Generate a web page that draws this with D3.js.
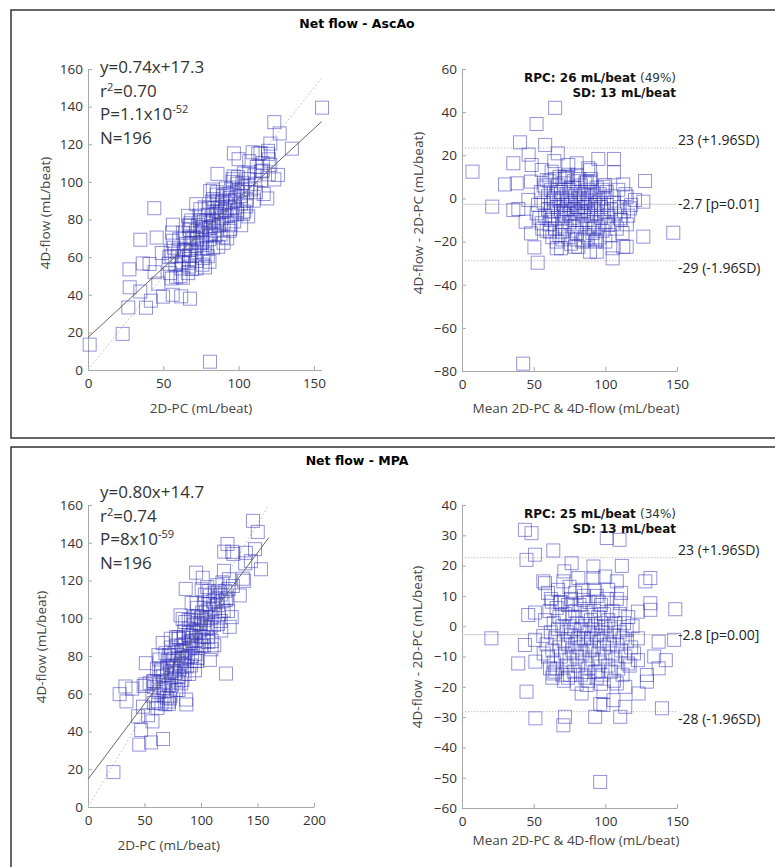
<!DOCTYPE html>
<html>
<head>
<meta charset="utf-8">
<script src="https://cdn.jsdelivr.net/npm/d3@7"></script>
<style>
  body { margin: 0; background: #fff; }
  text { font-family: "Open Sans", sans-serif; }
</style>
</head>
<body>
<svg id="chart" width="775" height="867"></svg>
<script>
// panel titles
let titles = ['Net flow - AscAo', 'Net flow - MPA']

// Bland-Altman readings, one pair per patient: [mean of 2D-PC & 4D-flow, 4D-flow - 2D-PC]
let ascAoBA = [
  [65,42],[52,34.5],[40.5,26],[58,24.8],[66.8,20.9],[7.3,12.4],[35.8,16.3],[46.5,20.3],[48.6,15.5],[55.6,13.2],
  [64.4,17.3],[30,6.5],[38.2,7],[48.1,7.8],[59.1,8.5],[74.2,15.5],[71.9,10.1],[95.1,18.3],[106,18.3],[106,12.1],
  [127.7,8.1],[112.5,6.5],[99.8,6.2],[80,16.3],[88.1,14],[80,10.9],[89.3,7.8],[21.1,-3.8],[35.8,-5.4],[39.3,-4.9],
  [44.4,-10.8],[48.1,-16.2],[50.5,-22.7],[52.8,-29.8],[66.1,-23.1],[69.1,-23.1],[61.4,-15.4],[69.6,-15.4],[78.8,-22.4],[46.3,-0.7],
  [52.1,-6.9],[55.6,-11.5],[126.5,-1.5],[147.4,-15.9],[126.5,-17.7],[114.9,-22.4],[112.5,-22.4],[105.1,-27.8],[105.1,-23.1],[94,-24.7],
  [89.3,-24.7],[81.2,-22.4],[114.9,0.8],[117.2,-4.6],[110.2,-9.2],[102.1,-12.3],[120.7,-0.7],[42.7,-76.6],[62.5,12.4],[73,10],
  [87,7.7],[98.7,5.4],[89.4,13.1],[84.7,-19.4],[94,-19.4],[100,-20],
  [55,3],[57,-2],[58,-8],[60,1],[60,-5],[61,-12],[62,4],[62,-3],[63,-8],[64,0],
  [64,-6],[65,-14],[66,2],[66,-4],[67,-9],[67,6],[68,-1],[68,-17],[69,3],[69,-6],
  [70,-11],[70,0],[71,-3],[71,7],[72,-8],[72,-14],[73,2],[73,-5],[74,-1],[74,-18],
  [75,4],[75,-7],[75,-11],[76,0],[76,-3],[77,-9],[77,5],[78,-5],[78,-13],[79,1],
  [79,-2],[80,-7],[80,-16],[81,3],[81,-4],[82,-10],[82,0],[83,-6],[83,6],[84,-2],
  [84,-12],[85,-8],[85,2],[86,-4],[86,-17],[87,-1],[87,-10],[88,4],[88,-6],[89,-13],
  [89,0],[90,-3],[90,-8],[91,-16],[91,3],[92,-5],[92,-11],[93,1],[93,-20],[94,-7],
  [95,-2],[95,-13],[96,2],[97,-9],[97,-4],[98,-15],[99,0],[99,-6],[100,-11],[101,3],
  [101,-3],[102,-8],[103,-17],[104,-5],[104,1],[105,-12],[106,-2],[107,-7],[108,-14],[109,4],
  [110,-4],[111,-10],[112,-16],[113,-6],[114,2],[115,-12],[116,-8],[118,-3],[58,5],[59,-15],
  [61,8],[63,-18],[65,9],[66,-20],[68,10],[70,-19],[72,9],[74,11],[76,-21],[78,8],
  [80,-19],[82,9],[84,-20],[86,7],[88,-18],[90,9],[92,-14],[94,5],[96,-18],[98,4],
  [53,-3],[54,-9],[56,-14],[57,6],[62,-10],[64,-1],[71,-7],[79,-10],[85,-1],[93,-3]
]

let mpaBA = [
  [43.9,31.8],[48.5,30.7],[101,29.1],[109.9,28.5],[63.7,25],[50.9,23.6],[45,21.9],[71.4,18.1],[76.5,20.8],[91.7,19.7],
  [111.5,19.9],[56.7,14.8],[57.9,14.2],[70.7,14.8],[81.2,15.9],[91.7,15.9],[99.9,16.4],[108,14.8],[127.9,14.8],[131.4,15.9],
  [46.2,3.7],[50.9,4.5],[62.7,8.1],[68.4,7.8],[76.5,7.4],[84.7,8.7],[95.2,8.1],[110.6,7.6],[122.7,4.8],[131.4,7.6],
  [131.4,5.4],[148.8,5.6],[20.5,-4],[43.9,-6.2],[50.9,-4.5],[56.7,-3.2],[39.2,-12.3],[51.2,-11.7],[61.4,-13.9],[63.7,-15.6],
  [45,-21.6],[51.2,-30.4],[70.7,-32.7],[71.9,-29.9],[92.9,-29.9],[110.4,-29.9],[96.4,-25.7],[98.7,-26],[113.9,-26.6],[139.5,-27.1],
  [83.5,-22.2],[98.7,-21.6],[108,-18.9],[113.9,-20],[123.2,-22.2],[129,-18.3],[137.2,-5.1],[148,-4.5],[134.1,-10],[142.2,-11.2],
  [137.2,-13.9],[129,-16.1],[95.2,-15],[75.4,-16.1],[96.4,-51.4],[122.7,-4],[114.9,-1.2],[122.7,-11.2],[115.8,-12.3],[87,-19.4],
  [105.7,-24.4],
  [58,2],[59,-6],[60,-10],[61,5],[62,-2],[63,-8],[64,1],[64,-12],[65,-4],[66,6],
  [66,-14],[67,-1],[68,-7],[68,3],[69,-10],[70,0],[70,-16],[71,-5],[72,4],[72,-9],
  [73,-2],[73,-13],[74,7],[74,-6],[75,0],[75,-11],[76,-3],[76,9],[77,-8],[77,3],
  [78,-15],[78,-1],[79,5],[79,-6],[80,-10],[80,1],[81,-4],[81,-13],[82,7],[82,-7],
  [83,-1],[83,-16],[84,3],[84,-9],[85,-4],[85,10],[86,-12],[86,0],[87,-6],[87,5],
  [88,-2],[88,-14],[89,8],[89,-8],[90,-4],[90,2],[91,-11],[91,-1],[92,5],[92,-7],
  [93,-15],[93,0],[94,-3],[94,10],[95,-9],[95,3],[96,-5],[96,-12],[97,1],[97,7],
  [98,-2],[98,-16],[99,-7],[99,4],[100,-10],[100,0],[101,-4],[101,9],[102,-13],[102,2],
  [103,-6],[104,-1],[104,-15],[105,5],[105,-9],[106,-3],[107,-11],[107,1],[108,-6],[108,9],
  [109,-14],[110,-2],[110,4],[111,-8],[112,-4],[112,-16],[113,1],[114,-10],[115,-5],[116,3],
  [117,-13],[118,-7],[119,0],[120,-9],[60,11],[63,-17],[67,12],[71,-18],[75,13],[80,-19],
  [84,12],[88,-18],[92,12],[97,-19],[102,12],[106,-18],[57,-9],[62,9],[65,-15],[69,8],
  [74,-17],[79,11],[86,-17],[94,-17],[111,11]
]

// regression as printed on the plots
let fitSlope = [0.74, 0.80]
let fitIntercept = [17.3, 14.7]
let fitLabels = [
  ['y=0.74x+17.3', '0.70', '1.1x10', '-52', '196'],
  ['y=0.80x+14.7', '0.74', '8x10', '-59', '196']
]

// bias and limits of agreement
let limitValues = [[23.4, -2.7, -28.9], [22.6, -2.8, -28.2]]
let limitLabels = [
  ['23 (+1.96SD)', '-2.7 [p=0.01]', '-29 (-1.96SD)'],
  ['23 (+1.96SD)', '-2.8 [p=0.00]', '-28 (-1.96SD)']
]
let rpcLabels = [
  ['RPC: 26 mL/beat', '(49%)', 'SD: 13 mL/beat'],
  ['RPC: 25 mL/beat', '(34%)', 'SD: 13 mL/beat']
]

// tick labels
let scatterXTicks = [[0, 50, 100, 150], [0, 50, 100, 150, 200]]
let scatterYTicks = [0, 20, 40, 60, 80, 100, 120, 140, 160]
let baXTicks = [0, 50, 100, 150]
let baYTicks = [[60, 40, 20, 0, -20, -40, -60, -80], [40, 30, 20, 10, 0, -10, -20, -30, -40, -50, -60]]

// layout per panel
let panels = [
  { top: 10, boxH: 428, titleY: 28,
    sx: [0, 155], sxR: [88, 321.5], sy: [0, 160], syR: [370, 69], lineEnd: 155,
    by: [-80, 60], byR: [371, 69], statY: 73, yLabX: 45, baYLabX: 418, midY: 213, xLabY: 413 },
  { top: 447, boxH: 440, titleY: 465,
    sx: [0, 200], sxR: [88, 314], sy: [0, 160], syR: [807, 505], lineEnd: 160,
    by: [-60, 40], byR: [808, 505], statY: 498, yLabX: 41, baYLabX: 417, midY: 647, xLabY: 850 }
]

let svg = d3.select('#chart')
let markColor = '#2a2ab8'
let sq = 13

function styleAxis(g) {
  g.select('.domain').attr('stroke', '#a8a8a8')
  g.selectAll('.tick line').attr('stroke', '#a8a8a8')
  g.selectAll('.tick text').attr('fill', '#333').style('font-size', '13.5px')
    .style('font-family', '"Open Sans", sans-serif')
}

function drawPanel(i) {
  let p = panels[i]
  let ba = i == 0 ? ascAoBA : mpaBA
  // the raw measurements behind each Bland-Altman pair
  let pts = ba.map(d => ({ pc: d[0] - d[1] / 2, flow: d[0] + d[1] / 2, mean: d[0], diff: d[1] }))

  svg.append('rect')
    .attr('x', 11).attr('y', p.top).attr('width', 780).attr('height', p.boxH)
    .attr('fill', 'none').attr('stroke', '#333').attr('stroke-width', 1.5)

  svg.append('text').text(titles[i])
    .attr('x', 357).attr('y', p.titleY).attr('text-anchor', 'middle')
    .style('font-family', '"DejaVu Sans", sans-serif').style('font-weight', 'bold').style('font-size', '12.5px')

  // ---- scatter: 2D-PC vs 4D-flow
  let x = d3.scaleLinear().domain(p.sx).range(p.sxR)
  let y = d3.scaleLinear().domain(p.sy).range(p.syR)

  svg.append('g').attr('transform', 'translate(0,' + p.syR[0] + ')')
    .call(d3.axisBottom(x).tickValues(scatterXTicks[i]).tickSizeInner(-4).tickSizeOuter(0).tickPadding(8))
    .call(styleAxis)
  svg.append('g').attr('transform', 'translate(' + p.sxR[0] + ',0)')
    .call(d3.axisLeft(y).tickValues(scatterYTicks).tickSizeInner(-4).tickSizeOuter(0).tickPadding(5))
    .call(styleAxis)

  // line of identity
  svg.append('line')
    .attr('x1', x(0)).attr('y1', y(0)).attr('x2', x(p.lineEnd)).attr('y2', y(p.lineEnd))
    .attr('stroke', '#c8c8c8').attr('stroke-dasharray', '2,2')

  svg.append('g').selectAll('rect')
    .data(pts).enter()
    .append('rect')
    .attr('x', d => x(d.pc) - sq / 2)
    .attr('y', d => y(d.flow) - sq / 2)
    .attr('width', sq).attr('height', sq)
    .attr('fill', 'none').attr('stroke', markColor).attr('stroke-opacity', 0.5)

  // regression line
  svg.append('line')
    .attr('x1', x(0)).attr('y1', y(fitIntercept[i]))
    .attr('x2', x(p.lineEnd)).attr('y2', y(fitSlope[i] * p.lineEnd + fitIntercept[i]))
    .attr('stroke', '#666').attr('stroke-width', 1)

  let stat = svg.append('g').attr('fill', '#333').style('font-size', '17px')
  let f = fitLabels[i]
  stat.append('text').attr('x', 100).attr('y', p.statY).text(f[0])
  let r2 = stat.append('text').attr('x', 100).attr('y', p.statY + 24)
  r2.append('tspan').text('r')
  r2.append('tspan').text('2').attr('dy', -6).style('font-size', '11px')
  r2.append('tspan').text('=' + f[1]).attr('dy', 6)
  let pv = stat.append('text').attr('x', 100).attr('y', p.statY + 47)
  pv.append('tspan').text('P=' + f[2])
  pv.append('tspan').text(f[3]).attr('dy', -7).style('font-size', '11px')
  stat.append('text').attr('x', 100).attr('y', p.statY + 71).text('N=' + f[4])

  svg.append('text').text('2D-PC (mL/beat)')
    .attr('x', (p.sxR[0] + x(150)) / 2 + (i == 0 ? 0 : -4)).attr('y', p.xLabY)
    .attr('text-anchor', 'middle').attr('fill', '#444').style('font-size', '13.5px')
  svg.append('text').text('4D-flow (mL/beat)')
    .attr('transform', 'translate(' + p.yLabX + ',' + p.midY + ') rotate(-90)')
    .attr('dy', '0.35em').attr('text-anchor', 'middle').attr('fill', '#444').style('font-size', '13.5px')

  // ---- Bland-Altman
  let bx = d3.scaleLinear().domain([0, 150]).range([462, 677])
  let by = d3.scaleLinear().domain(p.by).range(p.byR)

  svg.append('g').attr('transform', 'translate(0,' + p.byR[0] + ')')
    .call(d3.axisBottom(bx).tickValues(baXTicks).tickSizeInner(-4).tickSizeOuter(0).tickPadding(8))
    .call(styleAxis)
  svg.append('g').attr('transform', 'translate(462,0)')
    .call(d3.axisLeft(by).tickValues(baYTicks[i]).tickSizeInner(-4).tickSizeOuter(0).tickPadding(5))
    .call(styleAxis)

  svg.append('g').selectAll('line')
    .data(limitValues[i]).enter()
    .append('line')
    .attr('x1', bx(0)).attr('x2', bx(150))
    .attr('y1', d => by(d)).attr('y2', d => by(d))
    .attr('stroke', (d, k) => k == 1 ? '#cfcfcf' : '#c4c4c4')
    .attr('stroke-dasharray', (d, k) => k == 1 ? null : '1.5,1.5')

  svg.append('g').selectAll('rect')
    .data(pts).enter()
    .append('rect')
    .attr('x', d => bx(d.mean) - sq / 2)
    .attr('y', d => by(d.diff) - sq / 2)
    .attr('width', sq).attr('height', sq)
    .attr('fill', 'none').attr('stroke', markColor).attr('stroke-opacity', 0.5)

  let offs = [-3, 5, 12]
  svg.append('g').selectAll('text')
    .data(limitLabels[i]).enter()
    .append('text')
    .text(d => d)
    .attr('x', 678)
    .attr('y', (d, k) => by(limitValues[i][k]) + offs[k])
    .attr('fill', '#222').style('font-size', '14px')

  let r = rpcLabels[i]
  let rpc = svg.append('text').attr('x', 676).attr('y', p.byR[1] + 13).attr('text-anchor', 'end')
    .style('font-family', '"DejaVu Sans", sans-serif').style('font-size', '12px').attr('fill', '#111')
  rpc.append('tspan').text(r[0] + ' ').style('font-weight', 'bold')
  rpc.append('tspan').text(r[1]).attr('fill', '#333')
  svg.append('text').text(r[2]).attr('x', 676).attr('y', p.byR[1] + 28).attr('text-anchor', 'end')
    .style('font-family', '"DejaVu Sans", sans-serif').style('font-size', '12px').style('font-weight', 'bold').attr('fill', '#111')

  svg.append('text').text('Mean 2D-PC & 4D-flow (mL/beat)')
    .attr('x', 576).attr('y', p.xLabY - (i == 0 ? 0 : 5))
    .attr('text-anchor', 'middle').attr('fill', '#444').style('font-size', '13.5px')
  svg.append('text').text('4D-flow - 2D-PC (mL/beat)')
    .attr('transform', 'translate(' + p.baYLabX + ',' + p.midY + ') rotate(-90)')
    .attr('dy', '0.35em').attr('text-anchor', 'middle').attr('fill', '#444').style('font-size', '13.5px')
}

drawPanel(0)
drawPanel(1)
</script>
</body>
</html>
